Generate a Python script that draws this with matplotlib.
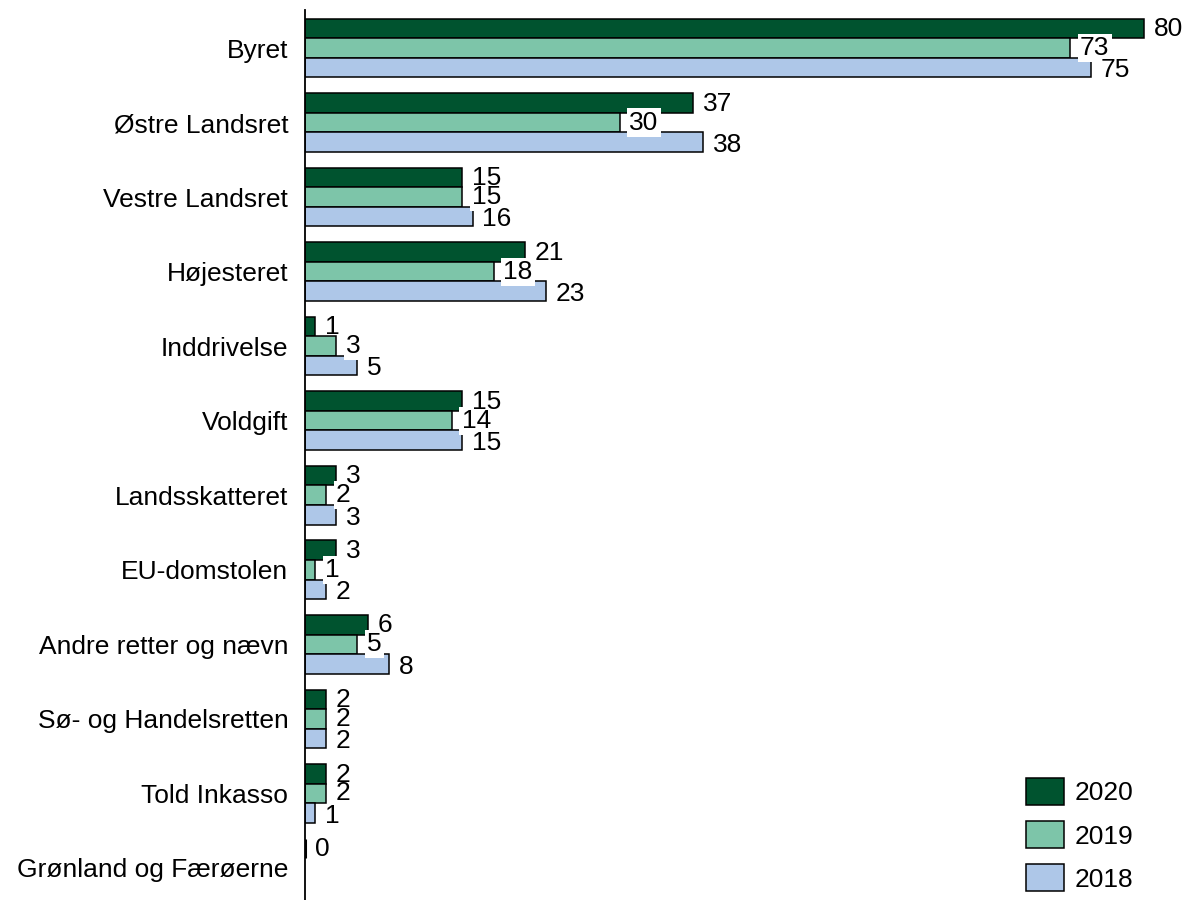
import numpy as np
import matplotlib.pyplot as plt

plt.rcParams['font.family'] = ['Liberation Sans', 'DejaVu Sans']

# Data
categories = ['Byret', 'Østre Landsret', 'Vestre Landsret', 'Højesteret', 'Inddrivelse',
              'Voldgift', 'Landsskatteret', 'EU-domstolen', 'Andre retter og nævn',
              'Sø- og Handelsretten', 'Told Inkasso', 'Grønland og Færøerne']
v2020 = [80, 37, 15, 21, 1, 15, 3, 3, 6, 2, 2, 0]
v2019 = [73, 30, 15, 18, 3, 14, 2, 1, 5, 2, 2, np.nan]
v2018 = [75, 38, 16, 23, 5, 15, 3, 2, 8, 2, 1, np.nan]

series = [('2020', v2020, '#00532F'), ('2019', v2019, '#7DC5A9'), ('2018', v2018, '#AEC7E8')]

fig = plt.figure(figsize=(11.86, 9), dpi=100)
ax = fig.add_axes([305 / 1186, 0.0, 1 - 305 / 1186 - 0.01, 1 - 10 / 900])

y = np.arange(len(categories))
h = 0.262
offsets = [-h, 0, h]
label_dy = [-0.5, 0, -2]  # small vertical nudges of the value labels (points)

for i, ((name, vals, col), off) in enumerate(zip(series, offsets)):
    vals = np.array(vals, dtype=float)
    mask = ~np.isnan(vals)
    lw = [2.2 if v == 0 else 1.1 for v in vals[mask]]
    ax.barh(y[mask] + off, vals[mask], height=h, color=col, edgecolor='black',
            linewidth=lw, label=name, zorder=2)
    for yi, v in zip(y[mask] + off, vals[mask]):
        if name == '2019':
            # middle labels get a white background, drawn under the other labels
            ax.annotate(f'{v:.0f}', xy=(v, yi), xytext=(7, label_dy[i]), textcoords='offset points',
                        ha='left', va='center', fontsize=19, zorder=3,
                        bbox=dict(boxstyle='square,pad=0.08', fc='white', ec='none'))
        else:
            ax.annotate(f'{v:.0f}', xy=(v, yi), xytext=(7, label_dy[i]), textcoords='offset points',
                        ha='left', va='center', fontsize=19, zorder=4)

ax.set_yticks(y)
ax.set_yticklabels(categories, fontsize=19)
ax.tick_params(axis='y', length=0, pad=12)
ax.set_ylim(11.43, -0.51)
ax.set_xlim(0, 82.9)
ax.set_xticks([])
for s in ['top', 'right', 'bottom']:
    ax.spines[s].set_visible(False)
ax.spines['left'].set_linewidth(1.3)

ax.legend(loc='lower right', bbox_to_anchor=(1147 / 1186, -5 / 900), bbox_transform=fig.transFigure,
          frameon=False, fontsize=19, handlelength=1.45, handleheight=1.2,
          labelspacing=0.6, handletextpad=0.42, borderpad=0)

fig.savefig('out.png', dpi=100)
